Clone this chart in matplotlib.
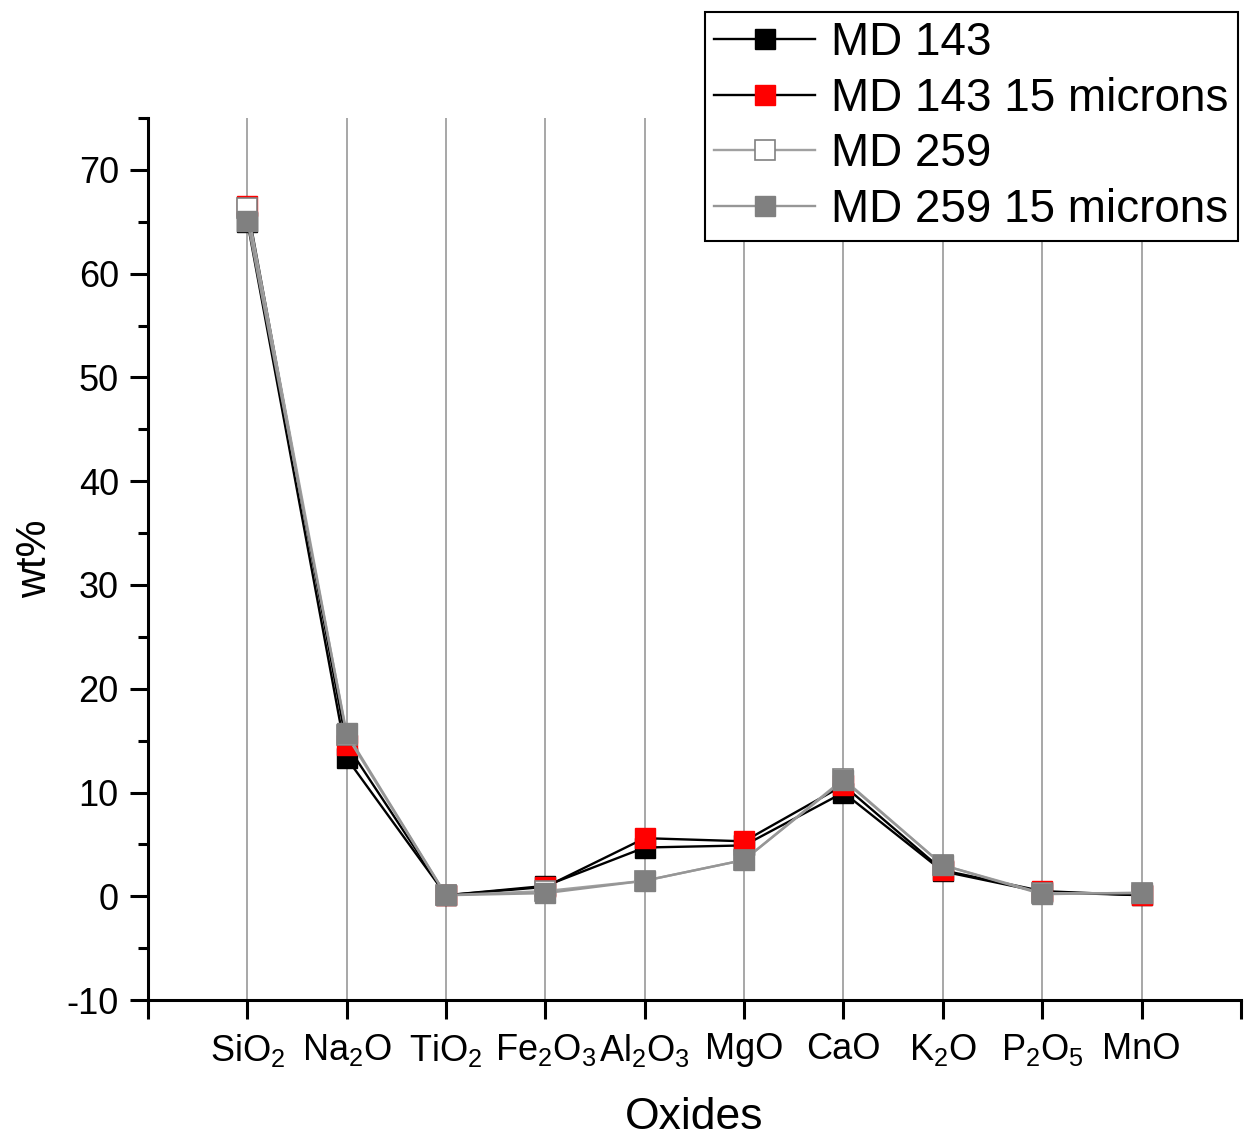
import numpy as np
import matplotlib
matplotlib.use('Agg')
import matplotlib.pyplot as plt
from matplotlib.ticker import MultipleLocator

plt.rcParams['font.family'] = ['Liberation Sans', 'DejaVu Sans']
plt.rcParams['mathtext.fontset'] = 'custom'
plt.rcParams['mathtext.rm'] = 'Liberation Sans'
plt.rcParams['mathtext.it'] = 'Liberation Sans:italic'
plt.rcParams['axes.unicode_minus'] = False

# Data (wt%)
oxides = ['SiO$_2$', 'Na$_2$O', 'TiO$_2$', 'Fe$_2$O$_3$', 'Al$_2$O$_3$',
          'MgO', 'CaO', 'K$_2$O', 'P$_2$O$_5$', 'MnO']
md143 = [65.0, 13.3, 0.1, 1.0, 4.7, 4.9, 10.0, 2.4, 0.4, 0.1]
md143_15 = [66.5, 14.6, 0.1, 0.9, 5.6, 5.3, 10.7, 2.5, 0.5, 0.1]
md259 = [66.3, 15.5, 0.1, 0.5, 1.5, 3.5, 11.3, 3.0, 0.3, 0.3]
md259_15 = [65.1, 15.7, 0.1, 0.3, 1.5, 3.5, 11.2, 3.0, 0.2, 0.35]

x = np.arange(1, len(oxides) + 1)

fig = plt.figure(figsize=(12.49, 11.45), dpi=100)
ax = fig.add_axes([0.1185, 0.1266, 0.875, 0.7703])

# vertical grid lines at each oxide
for xi in x:
    ax.axvline(xi, color='#a0a0a0', lw=1.3, zorder=0)

ms = 14
ax.plot(x, md143, '-s', color='black', lw=1.7, ms=ms, mfc='black', mec='black',
        label='MD 143', zorder=2)
ax.plot(x, md143_15, '-s', color='black', lw=1.7, ms=ms, mfc='red', mec='red',
        label='MD 143 15 microns', zorder=3)
ax.plot(x, md259, '-s', color='#a0a0a0', lw=1.7, ms=ms, mfc='white', mec='#808080',
        mew=1.2, label='MD 259', zorder=4)
ax.plot(x, md259_15, '-s', color='#969696', lw=1.7, ms=ms, mfc='#808080', mec='#808080',
        label='MD 259 15 microns', zorder=5)

ax.set_xlim(0, 11)
ax.set_ylim(-10, 75)
ax.set_xticks(np.arange(0, 12))
ax.set_xticklabels([''] + oxides + [''])
ax.yaxis.set_major_locator(MultipleLocator(10))
ax.yaxis.set_minor_locator(MultipleLocator(5))

for s in ['top', 'right']:
    ax.spines[s].set_visible(False)
for s in ['left', 'bottom']:
    ax.spines[s].set_linewidth(2.2)

ax.tick_params(axis='both', which='major', direction='out', length=13, width=2.2,
               labelsize=26, pad=8)
ax.tick_params(axis='x', which='major', length=14, pad=9)
ax.tick_params(axis='y', which='minor', direction='out', length=7, width=2.2)

ax.set_xlabel('Oxides', fontsize=32, labelpad=20)
ax.set_ylabel('wt%', fontsize=30, labelpad=8)

leg = fig.legend(loc='upper right', bbox_to_anchor=(0.991, 0.9895), fontsize=33,
                 frameon=True, fancybox=False, framealpha=1, edgecolor='black',
                 handlelength=2.2, handletextpad=0.35, labelspacing=0.25,
                 borderpad=0.2, borderaxespad=0, markerscale=1.0)
leg.get_frame().set_linewidth(1.5)

fig.savefig('out.png', dpi=100)
